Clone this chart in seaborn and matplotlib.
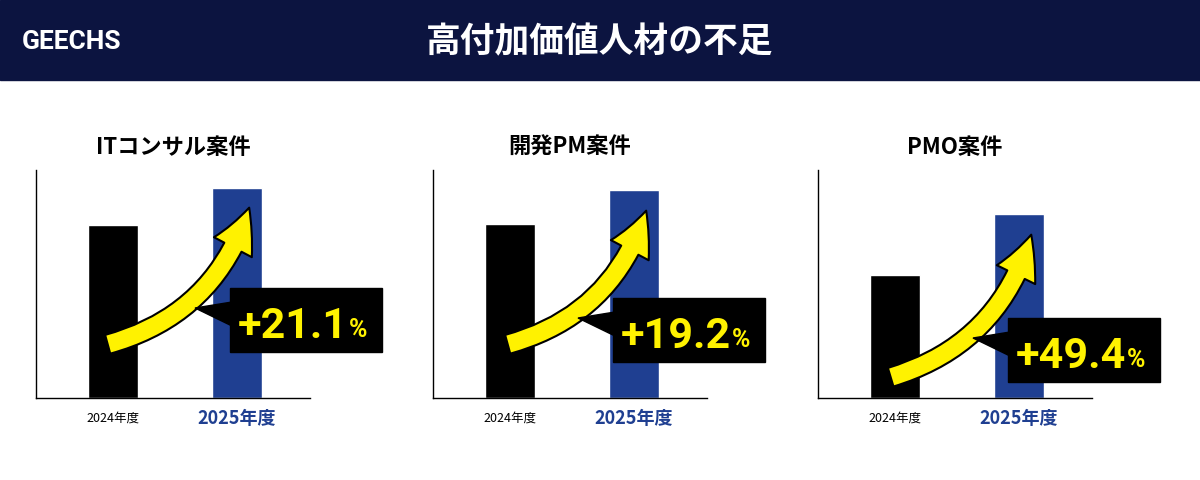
import matplotlib
matplotlib.use("Agg")
import matplotlib.pyplot as plt
import seaborn as sns
from matplotlib.patches import FancyArrowPatch, Polygon, Rectangle
import pandas as pd

sns.set_theme(style="white")
plt.rcParams['font.family'] = ['Noto Sans CJK JP', 'DejaVu Sans']

# data (bar heights as index)
titles = ["ITコンサル案件", "開発PM案件", "PMO案件"]
years = ["2024年度", "2025年度"]
vals_2024 = [173, 174, 123]
vals_2025 = [210, 208, 184]
growth = ["+21.1", "+19.2", "+49.4"]

NAVY = "#0c1440"
BLUE = "#1f3f91"
YEL = "#fff200"
W, H = 1200, 480

fig = plt.figure(figsize=(12, 4.8), dpi=100)
fig.patch.set_facecolor("white")

def fx(x): return x / W
def fy(y): return 1 - y / H

# header
fig.patches.append(Rectangle((0, fy(80)), 1, 80 / H, transform=fig.transFigure,
                             color=NAVY, zorder=0))
fig.text(fx(22), fy(42), "GEECHS", color="white", fontsize=19, fontweight="bold",
         va="center", family=["Roboto", "DejaVu Sans"])
fig.text(0.5, fy(42), "高付加価値人材の不足", color="white", fontsize=25,
         fontweight="bold", ha="center", va="center")

offsets = [0, 397, 782]
tails = [(105, 345), (505, 345), (888, 378)]
heads = [(250, 205), (647, 208), (1032, 232)]
boxes = [(230, 288), (613, 298), (1008, 318)]

for i in range(3):
    o = offsets[i]
    ax = fig.add_axes([fx(36 + o), fy(398), fx(274), 228 / H])
    df = pd.DataFrame({"year": years, "v": [vals_2024[i], vals_2025[i]]})
    sns.barplot(data=df, x="year", y="v", hue="year", palette=["black", BLUE],
                width=0.4, ax=ax, legend=False, saturation=1)
    ax.set_xlim(-0.62, 1.587)
    ax.set_ylim(0, 228)
    ax.set_yticks([])
    ax.set_xlabel("")
    ax.set_ylabel("")
    for s in ["top", "right"]:
        ax.spines[s].set_visible(False)
    for s in ["left", "bottom"]:
        ax.spines[s].set_color("black")
        ax.spines[s].set_linewidth(1)
    ax.set_xticks([0, 1])
    ax.set_xticklabels([])
    ax.set_facecolor("white")
    ax.text(0, -20, years[0], ha="center", va="center", fontsize=9, color="black")
    ax.text(1, -20, years[1], ha="center", va="center", fontsize=13,
            fontweight="bold", color=BLUE)
    fig.text(fx(36 + o + 137), fy(147), titles[i], ha="center", va="center",
             fontsize=16, fontweight="bold", color="black")

    # arrow
    t, h = tails[i], heads[i]
    arr = FancyArrowPatch((fx(t[0]), fy(t[1])), (fx(h[0]), fy(h[1])),
                          transform=fig.transFigure,
                          connectionstyle="arc3,rad=0.28",
                          arrowstyle="simple,head_width=2.2,head_length=2.2,tail_width=1.0",
                          mutation_scale=14, facecolor=YEL, edgecolor="black",
                          linewidth=1.5, zorder=5)
    fig.patches.append(arr)

    # callout
    bx, by = boxes[i]
    fig.patches.append(Rectangle((fx(bx), fy(by + 64)), fx(152), 64 / H,
                                 transform=fig.transFigure, color="black", zorder=6))
    fig.patches.append(Polygon([(fx(bx + 2), fy(by + 14)), (fx(bx - 35), fy(by + 20)),
                                (fx(bx + 2), fy(by + 38))],
                               transform=fig.transFigure, color="black", zorder=6))
    fig.text(fx(bx + 8), fy(by + 38), growth[i], color=YEL, fontsize=31,
             fontweight="bold", va="center", zorder=7, family=["Roboto", "DejaVu Sans"])
    fig.text(fx(bx + 119), fy(by + 42), "%", color=YEL, fontsize=18,
             fontweight="bold", va="center", zorder=7, family=["Roboto", "DejaVu Sans"])

fig.savefig("out.png", dpi=100)
